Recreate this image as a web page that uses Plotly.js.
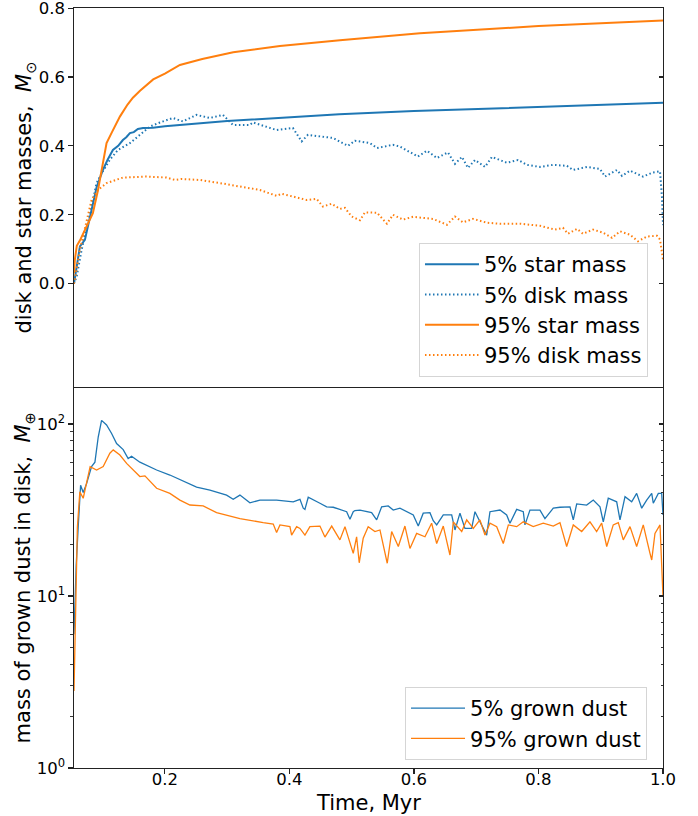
<!DOCTYPE html>
<html>
<head>
<meta charset="utf-8">
<script src="https://cdn.plot.ly/plotly-3.0.1.min.js"></script>
<style>html,body{margin:0;padding:0;background:#fff;}</style>
</head>
<body>
<div id="chart" style="width:698px;height:816px;"></div>
<script>
// ---- top panel: star and disk masses (solar masses) ----
const starTime5 = [0.054,0.058,0.0635,0.0715,0.0795,0.0903,0.1004,0.108,0.1165,0.125,0.1325,0.138,0.1438,0.150,0.1566,0.165,0.1807,0.2,0.3,0.417,0.48,0.6,0.8,1.0];
const starMass5 = [0.0,0.05,0.108,0.127,0.195,0.28,0.33,0.36,0.388,0.40,0.417,0.425,0.437,0.44,0.449,0.452,0.453,0.457,0.472,0.484,0.492,0.501,0.513,0.525];

const starTime95 = [0.054,0.0554,0.0585,0.0634,0.0742,0.0843,0.0924,0.1,0.1063,0.115,0.1277,0.14,0.1486,0.16,0.1812,0.2,0.2241,0.26,0.3097,0.3847,0.4811,0.6096,0.8,1.0];
const starMass95 = [0.03,0.07,0.11,0.125,0.166,0.205,0.27,0.345,0.408,0.44,0.485,0.52,0.54,0.56,0.593,0.61,0.635,0.652,0.672,0.69,0.707,0.727,0.748,0.764];

const diskTime5 = [0.0538,0.0582,0.0662,0.0742,0.0822,0.0903,0.0983,0.1116,0.1245,0.1438,0.1598,0.1759,0.1920,0.2129,0.2289,0.2509,0.2723,0.2932,0.3092,0.3365,0.3414,0.3794,0.4056,0.4196,0.4297,0.4538,0.4699,0.4940,0.5052,0.5293,0.5406,0.5663,0.5775,0.6064,0.6209,0.6369,0.6546,0.6659,0.6771,0.6867,0.6980,0.7141,0.7253,0.7494,0.7671,0.7815,0.8024,0.8233,0.8458,0.8554,0.8779,0.8988,0.9068,0.9261,0.9341,0.9470,0.9679,0.9839,0.9952,0.9984,1.0];
const diskMass5 = [0.0,0.02,0.098,0.157,0.224,0.292,0.32,0.36,0.388,0.408,0.432,0.456,0.468,0.481,0.471,0.490,0.481,0.49,0.461,0.461,0.468,0.446,0.452,0.413,0.432,0.426,0.423,0.40,0.415,0.408,0.394,0.403,0.398,0.369,0.386,0.365,0.381,0.348,0.368,0.336,0.359,0.339,0.368,0.351,0.359,0.345,0.339,0.345,0.342,0.33,0.339,0.333,0.311,0.33,0.313,0.328,0.311,0.323,0.326,0.25,0.17];

const diskTime95 = [0.0538,0.0554,0.0634,0.0742,0.0822,0.0924,0.1063,0.1325,0.1706,0.2027,0.2161,0.2268,0.2562,0.2884,0.3205,0.3526,0.3794,0.3875,0.4056,0.4276,0.4437,0.4538,0.4678,0.4811,0.4892,0.4999,0.5133,0.5213,0.5406,0.5566,0.5663,0.5823,0.5984,0.6305,0.6530,0.6659,0.6787,0.6948,0.7173,0.7382,0.7703,0.8024,0.8265,0.8394,0.8474,0.8619,0.8715,0.8876,0.9036,0.9181,0.9309,0.9470,0.9598,0.9743,0.9904,0.9952,1.0];
const diskMass95 = [0.0,0.012,0.098,0.186,0.243,0.272,0.292,0.308,0.311,0.308,0.301,0.304,0.301,0.292,0.282,0.272,0.255,0.261,0.253,0.243,0.246,0.224,0.232,0.217,0.22,0.195,0.184,0.207,0.206,0.174,0.2,0.186,0.194,0.188,0.171,0.195,0.178,0.188,0.177,0.174,0.174,0.168,0.157,0.162,0.145,0.159,0.145,0.157,0.148,0.133,0.152,0.142,0.123,0.137,0.139,0.128,0.07];

// ---- bottom panel: grown dust mass (Earth masses) ----
const dustTime5 = [0.054,0.0575,0.0607,0.0646,0.0688,0.0742,0.0822,0.0876,0.0929,0.0983,0.1063,0.1144,0.1224,0.1330,0.1410,0.1465,0.1598,0.1867,0.2080,0.2321,0.2509,0.2723,0.2991,0.3097,0.3205,0.3365,0.3526,0.3794,0.4061,0.4169,0.4222,0.4249,0.4302,0.4490,0.4598,0.4704,0.4864,0.4919,0.4972,0.5025,0.5052,0.5133,0.5320,0.5401,0.5481,0.5587,0.5667,0.5775,0.5989,0.6069,0.6149,0.6257,0.6310,0.6365,0.6471,0.6606,0.6659,0.6739,0.6819,0.6927,0.6980,0.7088,0.7168,0.7221,0.7382,0.7489,0.7542,0.7650,0.7756,0.7783,0.7863,0.8024,0.8104,0.8238,0.8345,0.8506,0.8559,0.8614,0.8774,0.8880,0.8988,0.9041,0.9121,0.9256,0.9309,0.9390,0.9497,0.9577,0.9658,0.9738,0.9819,0.9844,0.9925,0.9979,1.0];
const dustMass5 = [6,15,25,44,40,45,56.5,60,84,105,98.7,88,77,71,63,65,60,54,50.5,46,43,41.3,38.6,36.5,38.6,34.8,36.1,36.1,35.3,36.5,32.4,31.9,37.5,34.6,33,32.8,31.6,30.9,27.9,30.9,31.4,31.6,30.5,27.7,33,33.4,31.6,32.4,29.6,25.5,30.3,30.5,27.4,25.9,29.6,29.6,24.2,30.3,24.7,24.7,30.9,25.9,22.6,30.9,31.6,29.6,26.5,31.9,30.9,25.9,31.6,31.6,28.2,32.4,32.8,33,27.7,34.3,33.8,36.1,33,27,37,35.3,27.7,37.8,35.3,39.5,32.4,36.1,39.5,34.6,39.5,39.5,29.6];

const dustTime95 = [0.054,0.0575,0.0594,0.0634,0.0688,0.0799,0.0903,0.1009,0.1116,0.1170,0.1277,0.1385,0.1490,0.1598,0.1679,0.1867,0.2080,0.2241,0.2402,0.2615,0.2830,0.3205,0.3579,0.3740,0.3794,0.3848,0.4008,0.4035,0.4116,0.4169,0.4249,0.4329,0.4490,0.4570,0.4679,0.4811,0.4892,0.5025,0.5079,0.5121,0.5185,0.5265,0.5373,0.5454,0.5571,0.5642,0.5749,0.5855,0.5936,0.6043,0.6177,0.6284,0.6365,0.6471,0.6578,0.6632,0.6767,0.6847,0.6953,0.7060,0.7141,0.7221,0.7329,0.7435,0.7516,0.7650,0.7756,0.7916,0.8077,0.8238,0.8345,0.8453,0.8559,0.8694,0.8827,0.8934,0.9015,0.9096,0.9201,0.9282,0.9362,0.9470,0.9577,0.9683,0.9791,0.9819,0.9871,0.9952,1.0];
const dustMass95 = [2.8,12,25,40.4,37,56.5,54,56.5,67.6,70.7,66,59,54,49.5,49.9,42.3,39.5,36.1,33.8,33.4,30.5,28.2,26.7,26.2,23.4,25.9,25.3,22.6,25.3,24.7,22.6,25.3,25.5,22,25.5,21.2,25.3,17.7,22.1,15.6,21.7,25.3,23.7,24.2,15.5,23.7,19.4,25.5,18.9,23.1,22.1,26.5,20.2,25.5,17.3,27,23.7,27.7,24.7,27.7,22.6,26.5,25.3,20.2,25.9,25.3,27,25.3,26.5,25.5,26.7,19.4,25.9,23.7,27,23.7,26.5,19.4,25.9,26.7,21.2,25.3,19.4,25.9,17.7,16.2,23.1,25.9,9.9];

// ---- labels and ticks ----
const legendTop = ['5% star mass','5% disk mass','95% star mass','95% disk mass'];
const legendBottom = ['5% grown dust','95% grown dust'];
const titleTopY = 'disk and star masses,  <i>M</i><sub>⊙</sub>';
const titleBottomY = 'mass of grown dust in disk,  <i>M</i><sub>⊕</sub>';
const titleX = 'Time, Myr';
const topTicks = [0.0,0.2,0.4,0.6,0.8];
const topTickText = ['0.0','0.2','0.4','0.6','0.8'];
const logTicks = [1,10,100];
const logTickText = ['10<sup>0</sup>','10<sup>1</sup>','10<sup>2</sup>'];
const logMinor = [2,3,4,5,6,7,8,9,20,30,40,50,60,70,80,90,200,300,400,500,600,700,800,900];
const xTicks = [0.2,0.4,0.6,0.8,1.0];
const xTickText = ['0.2','0.4','0.6','0.8','1.0'];

const BLUE = '#1f77b4', ORANGE = '#ff7f0e';
const DOT = '1.5px,2.5px';

const traces = [
  {x: starTime5, y: starMass5, name: legendTop[0], mode:'lines', line:{color:BLUE,width:2}, xaxis:'x', yaxis:'y', legend:'legend'},
  {x: diskTime5, y: diskMass5, name: legendTop[1], mode:'lines', line:{color:BLUE,width:2,dash:DOT}, xaxis:'x', yaxis:'y', legend:'legend'},
  {x: starTime95, y: starMass95, name: legendTop[2], mode:'lines', line:{color:ORANGE,width:2}, xaxis:'x', yaxis:'y', legend:'legend'},
  {x: diskTime95, y: diskMass95, name: legendTop[3], mode:'lines', line:{color:ORANGE,width:2,dash:DOT}, xaxis:'x', yaxis:'y', legend:'legend'},
  {x: dustTime5, y: dustMass5, name: legendBottom[0], mode:'lines', line:{color:BLUE,width:1.3}, xaxis:'x2', yaxis:'y2', legend:'legend2'},
  {x: dustTime95, y: dustMass95, name: legendBottom[1], mode:'lines', line:{color:ORANGE,width:1.3}, xaxis:'x2', yaxis:'y2', legend:'legend2'},
  // empty helpers so the right-hand inward tick axes are drawn
  {x: [], y: [], xaxis:'x', yaxis:'y3', showlegend:false, hoverinfo:'skip', mode:'lines'},
  {x: [], y: [], xaxis:'x2', yaxis:'y4', showlegend:false, hoverinfo:'skip', mode:'lines'}
];

const FONT = 'DejaVu Sans';
const AX = '#222';
const SPLIT = 0.5013;
const TOPRANGE = [-0.3, 0.8003];
const LOGRANGE = [0, 2.215];

const layout = {
  width: 698, height: 816,
  margin: {l:74, r:35, t:8, b:48},
  paper_bgcolor:'#fff', plot_bgcolor:'#fff',
  font: {family: FONT, size: 16.5, color:'#000'},
  showlegend: true,
  xaxis: {domain:[0,1], anchor:'y', range:[0.054,1.0], showticklabels:false, ticks:'',
          showline:true, mirror:true, linecolor:AX, linewidth:1.1, showgrid:false, zeroline:false},
  yaxis: {domain:[SPLIT,1], anchor:'x', range:TOPRANGE, tickvals: topTicks, ticktext: topTickText,
          ticks:'outside', ticklen:4.5, tickwidth:1.1, tickcolor:AX, showline:true, mirror:true, linecolor:AX, linewidth:1.1,
          showgrid:false, zeroline:false, tickfont:{size:16.5}, ticklabeloverflow:'allow'},
  yaxis3: {overlaying:'y', anchor:'x', side:'right', range:TOPRANGE, tickvals: topTicks, showticklabels:false,
           ticks:'inside', ticklen:4.5, tickwidth:1.1, tickcolor:AX, showline:false, showgrid:false, zeroline:false},
  xaxis2: {domain:[0,1], anchor:'y2', range:[0.054,1.0], tickvals: xTicks, ticktext: xTickText,
           ticks:'outside', ticklen:4.5, tickwidth:1.1, tickcolor:AX, showline:true, mirror:false, linecolor:AX, linewidth:1.1,
           showgrid:false, zeroline:false, tickfont:{size:16.5}, ticklabelstandoff:-8, ticklabeloverflow:'allow'},
  yaxis2: {domain:[0,SPLIT], anchor:'x2', type:'log', range:LOGRANGE, tickvals: logTicks, ticktext: logTickText,
           ticks:'outside', ticklen:4.5, tickwidth:1.1, tickcolor:AX, showline:true, mirror:true, linecolor:AX, linewidth:1.1,
           minor:{tickvals: logMinor, ticks:'outside', ticklen:2.5, tickwidth:0.9, tickcolor:AX, showgrid:false},
           showgrid:false, zeroline:false, tickfont:{size:16.5}, ticklabeloverflow:'allow'},
  yaxis4: {overlaying:'y2', anchor:'x2', side:'right', type:'log', range:LOGRANGE, tickvals: logTicks, showticklabels:false,
           ticks:'inside', ticklen:4.5, tickwidth:1.1, tickcolor:AX,
           minor:{tickvals: logMinor, ticks:'inside', ticklen:2.5, tickwidth:0.9, tickcolor:AX, showgrid:false},
           showline:false, showgrid:false, zeroline:false},
  annotations: [
    {text: titleTopY, xref:'paper', yref:'paper', x:-0.0832, y:(SPLIT+1)/2, xanchor:'center', yanchor:'middle',
     textangle:-90, showarrow:false, font:{size:21, family:FONT}},
    {text: titleBottomY, xref:'paper', yref:'paper', x:-0.085, y:SPLIT/2, xanchor:'center', yanchor:'middle',
     textangle:-90, showarrow:false, font:{size:21, family:FONT}},
    {text: titleX, xref:'paper', yref:'paper', x:0.5, y:-0.046, xanchor:'center', yanchor:'middle',
     showarrow:false, font:{size:21, family:FONT}}
  ],
  legend: {x:0.5857, y:0.6908, xanchor:'left', yanchor:'top', bgcolor:'rgba(255,255,255,0.85)',
           bordercolor:'#d5d5d5', borderwidth:1, font:{size:21}, itemwidth:54},
  legend2: {x:0.562, y:0.1066, xanchor:'left', yanchor:'top', bgcolor:'rgba(255,255,255,0.85)',
            bordercolor:'#d5d5d5', borderwidth:1, font:{size:21}, itemwidth:54}
};

Plotly.newPlot('chart', traces, layout, {displayModeBar:false, staticPlot:true});
</script>
</body>
</html>
